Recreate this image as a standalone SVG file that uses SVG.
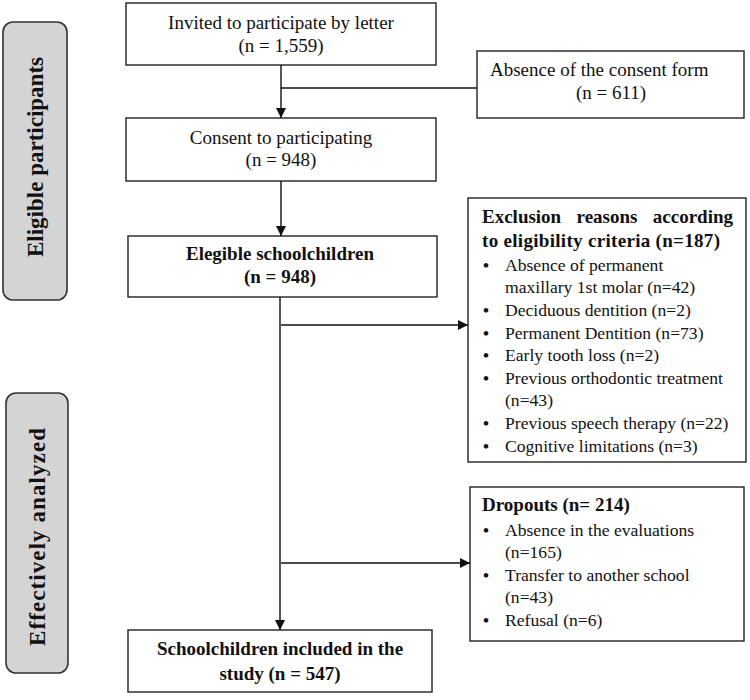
<svg xmlns="http://www.w3.org/2000/svg" width="750" height="700" viewBox="0 0 750 700">
<defs>
<style>
.box{fill:#fff;stroke:#222;stroke-width:1.4}
.side{fill:#d4d4d4;stroke:#333;stroke-width:1.6}
.t{font-family:"Liberation Serif","Times New Roman",serif;font-size:19px;fill:#111}
.b{font-weight:bold}
.c{text-anchor:middle}
.s{font-size:17.6px}
.bu{font-family:"Liberation Serif",serif;font-size:17px;font-weight:bold;fill:#111}
.side-t{font-family:"Liberation Serif","Times New Roman",serif;font-size:23px;font-weight:bold;fill:#111;text-anchor:middle}
.ln{stroke:#111;stroke-width:1.4;fill:none}
</style>
<marker id="ah" viewBox="0 0 10 10" refX="10" refY="5" markerWidth="12" markerHeight="10" markerUnits="userSpaceOnUse" orient="auto">
<path d="M0,0 L10,5 L0,10 z" fill="#111"/>
</marker>
</defs>
<rect width="750" height="700" fill="#fff"/>

<g id="label-eligible">
<rect class="side" x="3" y="22" width="64" height="278" rx="10"/>
<text class="side-t" transform="translate(43,157) rotate(-90)">Eligible participants</text>
</g>
<g id="label-analyzed">
<rect class="side" x="6" y="393" width="62" height="280" rx="10"/>
<text class="side-t" transform="translate(45,537) rotate(-90)" textLength="218" lengthAdjust="spacing">Effectively analyzed</text>
</g>

<g id="invited">
<rect class="box" x="126" y="3" width="310" height="62"/>
<text class="t c" x="281" y="29">Invited to participate by letter</text>
<text class="t c" x="281" y="52">(n = 1,559)</text>
</g>
<g id="absence">
<rect class="box" x="477" y="51" width="267" height="67"/>
<text class="t" x="490" y="76">Absence of the consent form</text>
<text class="t c" x="611" y="99">(n = 611)</text>
</g>
<g id="consent">
<rect class="box" x="126" y="118" width="310" height="63"/>
<text class="t c" x="281" y="144">Consent to participating</text>
<text class="t c" x="281" y="166">(n = 948)</text>
</g>
<g id="elegible">
<rect class="box" x="128" y="236" width="309" height="61"/>
<text class="t b c" x="280" y="260">Elegible schoolchildren</text>
<text class="t b c" x="280" y="283">(n = 948)</text>
</g>
<g id="exclusion">
<rect class="box" x="468" y="198" width="278" height="264"/>
<text class="t b" x="482" y="223">Exclusion</text>
<text class="t b c" x="607" y="223">reasons</text>
<text class="t b" x="733" y="223" text-anchor="end">according</text>
<text class="t b" x="482" y="247" textLength="238" lengthAdjust="spacing">to eligibility criteria  (n=187)</text>
<g class="bu">
<text x="483" y="271">•</text>
<text x="483" y="316">•</text>
<text x="483" y="339">•</text>
<text x="483" y="361">•</text>
<text x="483" y="384">•</text>
<text x="483" y="429">•</text>
<text x="483" y="452">•</text>
</g>
<text class="t s" x="505" y="271">Absence of permanent</text>
<text class="t s" x="505" y="293">maxillary  1st molar  (n=42)</text>
<text class="t s" x="505" y="316">Deciduous dentition (n=2)</text>
<text class="t s" x="505" y="339">Permanent Dentition (n=73)</text>
<text class="t s" x="505" y="361">Early  tooth loss (n=2)</text>
<text class="t s" x="505" y="384">Previous orthodontic treatment</text>
<text class="t s" x="505" y="406">(n=43)</text>
<text class="t s" x="505" y="429">Previous speech therapy (n=22)</text>
<text class="t s" x="505" y="452">Cognitive limitations  (n=3)</text>
</g>
<g id="dropouts">
<rect class="box" x="470" y="487" width="274" height="154"/>
<text class="t b" x="482" y="511">Dropouts (n= 214)</text>
<g class="bu">
<text x="483" y="536">•</text>
<text x="483" y="581">•</text>
<text x="483" y="626">•</text>
</g>
<text class="t s" x="505" y="536">Absence in the evaluations</text>
<text class="t s" x="505" y="558">(n=165)</text>
<text class="t s" x="505" y="581">Transfer to another school</text>
<text class="t s" x="505" y="603">(n=43)</text>
<text class="t s" x="505" y="626">Refusal (n=6)</text>
</g>
<g id="included">
<rect class="box" x="128" y="630" width="304" height="62"/>
<text class="t b c" x="280" y="655">Schoolchildren included in the</text>
<text class="t b c" x="280" y="680">study (n = 547)</text>
</g>

<g id="connectors">
<line class="ln" x1="281" y1="65" x2="281" y2="118" marker-end="url(#ah)"/>
<line class="ln" x1="281" y1="88" x2="477" y2="88"/>
<line class="ln" x1="281" y1="181" x2="281" y2="236" marker-end="url(#ah)"/>
<line class="ln" x1="280" y1="297" x2="280" y2="630" marker-end="url(#ah)"/>
<line class="ln" x1="281" y1="325" x2="468" y2="325" marker-end="url(#ah)"/>
<line class="ln" x1="281" y1="563" x2="470" y2="563" marker-end="url(#ah)"/>
</g>
</svg>
